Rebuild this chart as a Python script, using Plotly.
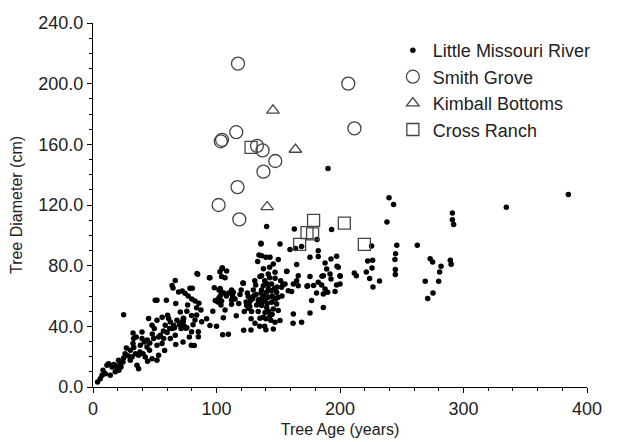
import plotly.graph_objects as go

# ---------------- data ----------------
lmr_age = [
    3.7, 5.9, 7.3, 8.1, 10, 11.3, 12.6, 14, 15.4, 16.7, 18, 19.4, 20.7, 22.1, 22.7, 24.3, 24.8, 24.8,
    27, 28.8, 30.2, 30.2, 31.6, 32.4, 32.9, 32.4, 34.3, 35.6, 36.9, 36.9, 38.3, 39.7, 39.7, 40.5,
    41.5, 42.3, 43.7, 44.2, 45, 45.8, 47.8, 47.8, 49.1, 49.6, 50.4, 51.8, 51.8, 51.8, 51.8, 53.1,
    53.1, 54.5, 55.9, 57.2, 58.5, 59.4, 60.4, 61.2, 62, 62.6, 62.6, 64, 64.8, 65.3, 66.6, 68, 69.3,
    70.7, 71.3, 72, 72.9, 73.4,
    26, 33, 44, 57, 60, 66, 70, 74, 76, 64, 66.6, 67, 56, 48, 46, 58, 67, 18, 21, 35, 38,
    136, 134.4, 133.3, 104.7, 102.8, 108.2, 104.1, 106.9, 84.7, 94.7, 121.7, 131.7, 135.2, 98.2,
    112.2, 113.6, 103.6, 80.4, 78.5, 72.3, 74.5, 102, 104.1, 112.2, 112.2, 125.7, 127.1, 129.8,
    133.8, 136.5, 124.4, 122.5, 131.2, 127.9, 109.6, 94.7, 82.6, 85.8, 83.9, 87.4, 76.6, 83.9,
    79.8, 82.6, 73.1, 71.7, 75, 79.8, 85.3, 85.3, 82, 73.1, 103.6, 106.9, 105.5, 128.4, 132.5,
    133.8, 135.2,
    105, 122, 79.6, 84.2, 94.2, 104.4, 121.4, 77, 80, 76, 81, 78, 113, 118, 125, 130, 128, 126,
    135, 131, 103, 103, 101, 120, 100, 116,
    140.6, 163, 193.2, 136, 151.4, 159.5, 164, 168.9, 182.4, 182.4, 175.7, 192.7, 197.3, 136.5,
    140, 143.3, 150, 146, 164.9, 187.9, 198.6, 189.2, 191.9, 186.5, 200, 156.8, 166.2, 175.7,
    136.5, 141.9, 147.4, 147.4, 182.4, 185.1, 197.2, 200, 196, 190, 187.9, 181, 173.8, 166.2,
    162.2, 158.1, 152.7, 155.5, 144.6, 137.9, 140.6, 144.6, 148.7, 141.9, 146, 150, 139.3, 144.6,
    148.7, 136.5, 140.6, 146, 150, 139.3, 143.3, 137.9, 147.4, 151.4, 146, 162.2, 168.9, 175.7,
    177, 186.5, 186.5, 160.8, 164.9,
    138, 142, 145, 139, 143, 137, 141, 145, 148, 136, 142, 140, 144, 149, 153, 139, 138, 143,
    140, 162,
    190.3, 239.7, 243.4, 238, 291, 291, 292, 181.4, 225.6, 246, 262.6, 245, 244.5, 222.4, 226.4,
    273, 275, 281.8, 289.3, 290, 197.6, 157, 211.6, 213.2, 221.3, 225.9, 244.8, 244.8, 280.7,
    279.9, 269, 275.3, 271, 224, 232, 226.7, 200.2, 192.7, 185.4, 153.8, 178.6, 173.3,
    334.7, 384.9,
    106, 108, 102, 110, 97, 99, 92, 88, 115, 119, 124, 127, 129, 132, 134, 137, 141, 147, 152,
]
lmr_dia = [
    3.3, 5.5, 7.7, 11, 8.8, 14.3, 15.4, 7.7, 13.2, 14.8, 14.3, 12.5, 17.6, 15.4, 13.2, 16.5, 19.1, 47.7,
    25.7, 20.4, 17.6, 24.2, 19.8, 28.6, 31.9, 35.6, 22, 14.3, 12.1, 20.9, 27.5, 31.9, 36.3, 22,
    29.7, 19.8, 26.4, 16.9, 45.1, 24.2, 40.7, 18.7, 31.9, 38.5, 57.2, 57.2, 44, 27.5, 17.6, 33,
    20.9, 34.1, 28.6, 31.9, 40.7, 57.2, 47.3, 45.1, 38.5, 42.8, 31.9, 38.5, 65.3, 40.7, 34.1, 44, 62.6,
    49.4, 38.5, 42.8, 29.7, 45.1,
    22, 26, 31, 37, 36, 39, 41, 40, 39, 67, 70.3, 55, 46, 35, 29, 24, 28, 10, 11, 33, 23,
    94.7, 87, 82.7, 78.7, 76, 76.5, 72.8, 72.1, 74.3, 72.1, 68.4, 67.2, 72.8, 65.5,
    64, 62.4, 62.9, 65.1, 65.1, 63.3, 61.8, 58.9, 56.7, 57.4, 54.5, 59.6, 56.3, 64,
    57.6, 64, 53.7, 49.7, 42, 37.6, 34.7, 40.5, 56.7, 55.2, 52.3, 50.8, 54.1, 47.5,
    47.1, 44.2, 43.1, 39.8, 38.7, 36.5, 36.5, 33.2, 27.3, 45.3, 54.1, 50.8, 45.7, 49.7, 54.1,
    49.7, 45.3,
    34.5, 37.4, 27.5, 74.8, 72.1, 78, 68.6, 60, 58, 50, 41, 33, 60, 55, 62, 60, 45, 52,
    40, 70, 65, 60, 56, 64, 40, 47,
    105.9, 104.2, 103.8, 94.3, 94.3, 90.6, 91.4, 92.7, 89.9, 86, 85.5, 84.4, 86.2, 86.6,
    85.5, 85.5, 84, 81.1, 80.7, 81.7, 79, 77.8, 74.5, 73.4, 73.4, 76.1, 73.4, 72.8,
    73.4, 74.5, 75.6, 71.7, 69, 67.2, 67.2, 67.9, 62.9, 62.4, 64.6, 62, 66.8, 66.8,
    67.9, 63.5, 65.7, 67.9, 67.9, 66.8, 62.4, 63.5, 62.4, 59.1, 59.1, 59.1, 57, 55.8,
    54.7, 53.7, 52.5, 51.4, 50.4, 49.2, 47.1, 46, 42.7, 43.8, 38.2, 48.1, 42.7, 48.8,
    57, 52.5, 61.3, 62.9, 70.1,
    60, 65, 60, 70, 72, 56, 55, 48, 58, 62, 50, 45, 44, 66, 60, 40, 78, 79,
    37.8, 42,
    144, 124.8, 120.4, 108.8, 114.7, 110.3, 107.2, 97.2, 93, 93.4, 93.4, 87.9, 84, 83, 83.5,
    84.6, 82.4, 79.6, 83.5, 80.9, 79.6, 76.3, 75.2, 73.4, 75.8, 78.4, 77.4, 74.1, 75.8,
    69.7, 69.7, 62, 58.3, 71.5, 69.9, 65.9, 73, 71.2, 73, 67.5, 67, 66.4,
    118.5, 127,
    62, 60, 64, 62, 50, 57, 45, 43, 58, 61, 56, 53, 58, 61, 56, 59, 68, 65, 70,
]

smith_age = [117.4, 104.5, 103.5, 116, 132.8, 137.3, 147.6, 138, 117, 101.7, 118.5, 206.7, 211.7]
smith_dia = [213.2, 163, 162, 168, 159, 156, 149, 142, 131.8, 120, 110.5, 200, 170.5]

kimball_age = [145.7, 141, 163.9]
kimball_dia = [182.4, 118.7, 156.6]

cross_age = [128, 178.6, 173.3, 177.8, 167.3, 203.5, 219.7]
cross_dia = [158, 109.9, 101.8, 101, 94, 108, 94]

FONT = "Liberation Sans, Arial, sans-serif"
TXT = "#222222"
OPEN = "#444444"

fig = go.Figure()
fig.add_trace(go.Scatter(
    x=lmr_age, y=lmr_dia, mode="markers", name="Little Missouri River",
    marker=dict(symbol="circle", size=5.5, color="black"),
))
fig.add_trace(go.Scatter(
    x=smith_age, y=smith_dia, mode="markers", name="Smith Grove",
    marker=dict(symbol="circle-open", size=13, color=OPEN, line=dict(width=1.3, color=OPEN)),
))
fig.add_trace(go.Scatter(
    x=kimball_age, y=kimball_dia, mode="markers", name="Kimball Bottoms",
    marker=dict(symbol="triangle-up-open", size=11, color=OPEN, line=dict(width=1.3, color=OPEN)),
))
fig.add_trace(go.Scatter(
    x=cross_age, y=cross_dia, mode="markers", name="Cross Ranch",
    marker=dict(symbol="square-open", size=12, color=OPEN, line=dict(width=1.3, color=OPEN)),
))

axis_common = dict(
    showline=True, linecolor="black", linewidth=1.3,
    ticks="outside", ticklen=5, tickwidth=1.3, tickcolor="black",
    showgrid=False, zeroline=False, automargin=False,
    tickfont=dict(family=FONT, size=18, color=TXT),
    title_font=dict(family=FONT, size=16, color=TXT),
)

fig.update_xaxes(
    range=[0, 400], tick0=0, dtick=100,
    title_text="Tree Age (years)", title_standoff=6,
    minor=dict(dtick=20, ticks="outside", ticklen=3, tickwidth=1.2, tickcolor="black", showgrid=False),
    **axis_common,
)
fig.update_yaxes(
    range=[0, 240], tick0=0, dtick=40, tickformat=".1f",
    title_text="Tree Diameter (cm)", title_standoff=12,
    minor=dict(dtick=10, ticks="outside", ticklen=3, tickwidth=1.2, tickcolor="black", showgrid=False),
    **axis_common,
)

# The page adds an 8 px body margin, so the figure is 8 px smaller and margins compensate.
fig.update_layout(
    width=616, height=434,
    margin=dict(l=85, r=37, t=15, b=55),
    plot_bgcolor="white", paper_bgcolor="white",
    font=dict(family=FONT, color=TXT),
    legend=dict(
        x=0.607, y=0.975, xanchor="left", yanchor="top",
        font=dict(family=FONT, size=18, color=TXT),
        bgcolor="rgba(0,0,0,0)", itemwidth=30,
        tracegroupgap=0,
    ),
    showlegend=True,
)

fig.write_html("out.html")
